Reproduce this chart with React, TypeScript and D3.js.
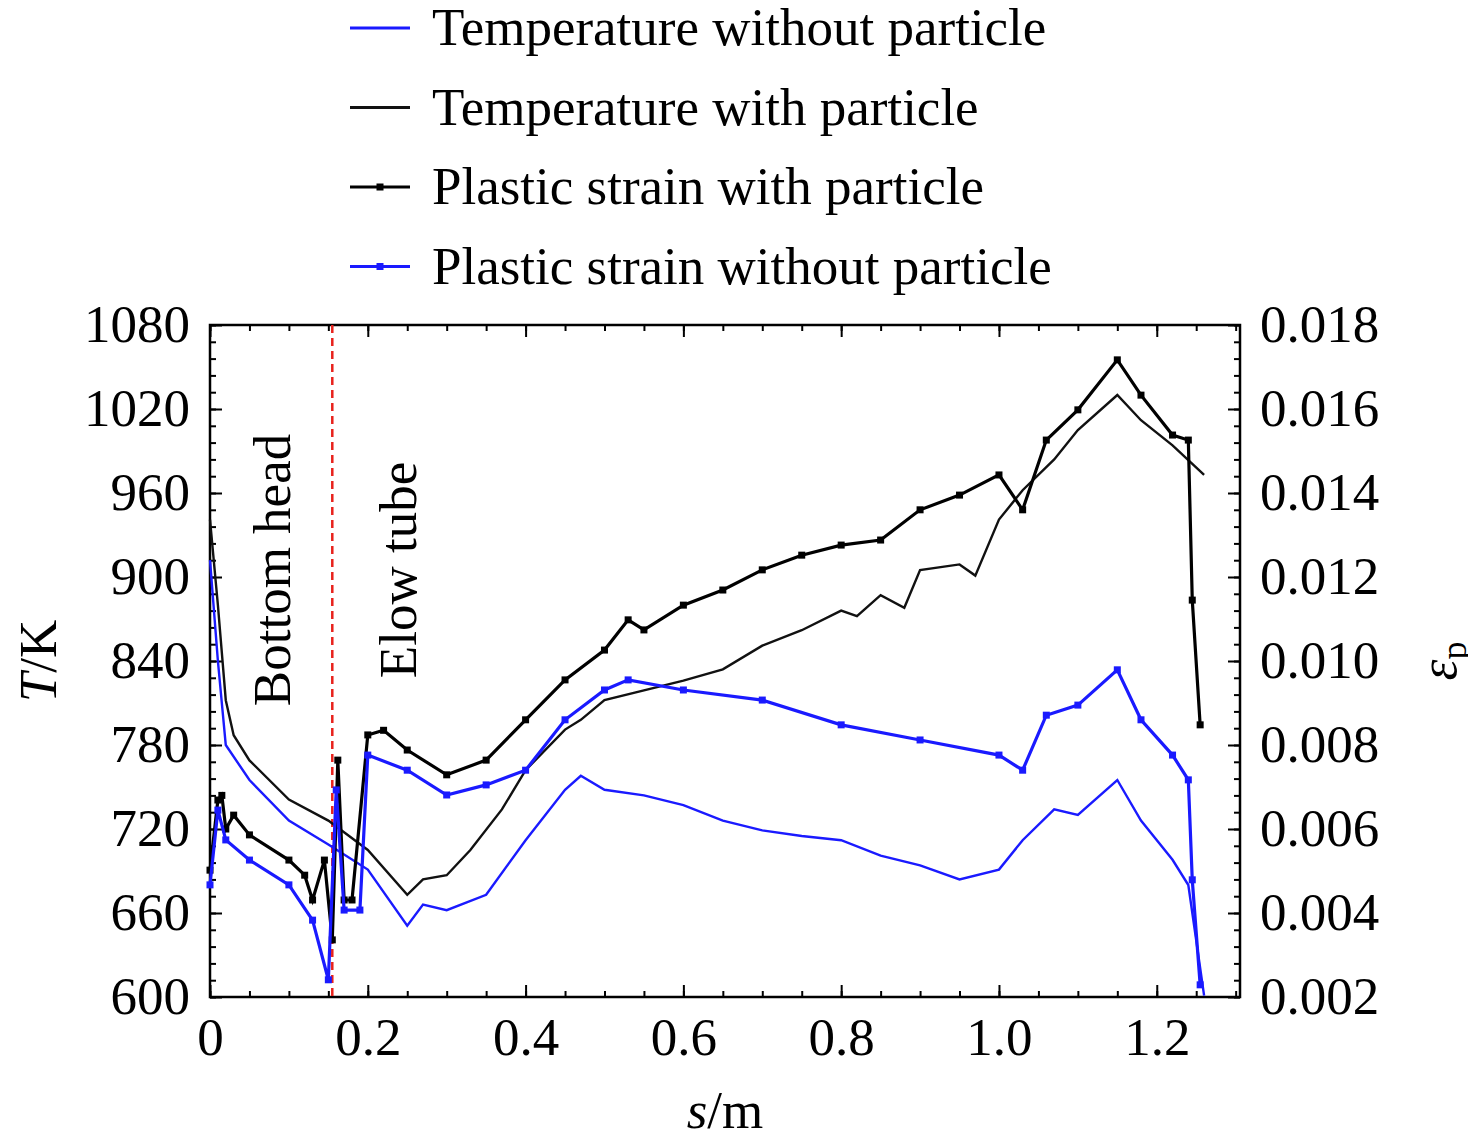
import { useEffect, useRef } from "react";
import * as d3 from "d3";

type P = [number, number];

// temperature series (s, T)
const tempWith: P[] = [[0,941],[0.01,880],[0.02,812],[0.03,787],[0.05,769],[0.1,741],[0.15,726],[0.2,705],[0.25,673],[0.27,684],[0.3,687],[0.33,705],[0.37,734],[0.4,762],[0.45,791],[0.47,798],[0.5,812],[0.55,819],[0.6,826],[0.65,834],[0.7,851],[0.75,862],[0.8,876],[0.82,872],[0.85,887],[0.88,878],[0.9,905],[0.95,909],[0.97,901],[1.0,941],[1.03,962],[1.07,984],[1.1,1005],[1.15,1030],[1.18,1012],[1.22,994],[1.26,973]];
const tempWithout: P[] = [[0,912],[0.01,840],[0.02,780],[0.05,755],[0.1,726],[0.15,709],[0.2,691],[0.25,651],[0.27,666],[0.3,662],[0.35,673],[0.4,712],[0.45,748],[0.47,758],[0.5,748],[0.55,744],[0.6,737],[0.65,726],[0.7,719],[0.75,715],[0.8,712],[0.85,701],[0.9,694],[0.95,684],[1.0,691],[1.03,712],[1.07,734],[1.1,730],[1.15,755],[1.18,726],[1.22,698],[1.24,680],[1.26,601]];
// plastic strain series (s, eps)
const strainWith: P[] = [[0,0.00502],[0.01,0.00669],[0.015,0.0068],[0.02,0.006],[0.03,0.00633],[0.05,0.00586],[0.1,0.00526],[0.12,0.0049],[0.13,0.00431],[0.145,0.00526],[0.155,0.00336],[0.162,0.00764],[0.17,0.00431],[0.18,0.00431],[0.2,0.00824],[0.22,0.00835],[0.25,0.00788],[0.3,0.00729],[0.35,0.00764],[0.4,0.0086],[0.45,0.00955],[0.5,0.01026],[0.53,0.01098],[0.55,0.01074],[0.6,0.01133],[0.65,0.01169],[0.7,0.01217],[0.75,0.01252],[0.8,0.01276],[0.85,0.01288],[0.9,0.0136],[0.95,0.01395],[1.0,0.01443],[1.03,0.0136],[1.06,0.01526],[1.1,0.01598],[1.15,0.01717],[1.18,0.01633],[1.22,0.01538],[1.24,0.01526],[1.245,0.01145],[1.255,0.00848]];
const strainWithout: P[] = [[0,0.00467],[0.01,0.00645],[0.02,0.00574],[0.05,0.00526],[0.1,0.00467],[0.13,0.00383],[0.15,0.00241],[0.16,0.00693],[0.17,0.00407],[0.19,0.00407],[0.2,0.00776],[0.25,0.0074],[0.3,0.00681],[0.35,0.00705],[0.4,0.0074],[0.45,0.0086],[0.5,0.00931],[0.53,0.00955],[0.6,0.00931],[0.7,0.00907],[0.8,0.00848],[0.9,0.00812],[1.0,0.00776],[1.03,0.0074],[1.06,0.00871],[1.1,0.00895],[1.15,0.00979],[1.18,0.0086],[1.22,0.00776],[1.24,0.00717],[1.245,0.00479],[1.255,0.00229]];

const leftTicks = [600, 660, 720, 780, 840, 900, 960, 1020, 1080];
const rightTicks = [0.002, 0.004, 0.006, 0.008, 0.01, 0.012, 0.014, 0.016, 0.018];
const xTicks = [0, 0.2, 0.4, 0.6, 0.8, 1.0, 1.2];
const legendItems = [
  { label: "Temperature without particle", color: "#1a1aff", marker: false },
  { label: "Temperature with particle", color: "#111", marker: false },
  { label: "Plastic strain with particle", color: "#000", marker: true },
  { label: "Plastic strain without particle", color: "#1a1aff", marker: true },
];

export default function App() {
  const ref = useRef<SVGSVGElement>(null);
  useEffect(() => {
    const svg = d3.select(ref.current);
    svg.selectAll("*").remove();
    const font = "'Liberation Serif', 'Times New Roman', serif";
    const FS = 53;
    const L = 210, R = 1240, T = 325, B = 997;
    const x = d3.scaleLinear().domain([0, 1.3055]).range([L, R]);
    const yl = d3.scaleLinear().domain([600, 1080]).range([B, T]);
    const yr = d3.scaleLinear().domain([0.002, 0.018]).range([B, T]);
    const g = svg.append("g").attr("font-family", font);

    const ax = (sel: any) => sel.selectAll(".domain").remove();
    const txt = (s: any) => s.selectAll("text").attr("font-size", FS).attr("font-family", font).attr("fill", "#000");
    // bottom / top
    g.append("g").attr("transform", `translate(0,${B})`)
      .call(d3.axisBottom(x).tickValues(xTicks).tickSize(-12).tickPadding(20).tickFormat((d: any) => d === 0 ? "0" : d3.format(".1f")(d)))
      .call(ax).call(txt);
    g.append("g").attr("transform", `translate(0,${B})`).call(d3.axisBottom(x).ticks(26).tickSize(-6).tickFormat(() => "")).call(ax);
    g.append("g").attr("transform", `translate(0,${T})`).call(d3.axisTop(x).tickValues(xTicks).tickSize(-12).tickFormat(() => "")).call(ax);
    g.append("g").attr("transform", `translate(0,${T})`).call(d3.axisTop(x).ticks(26).tickSize(-6).tickFormat(() => "")).call(ax);
    // left
    g.append("g").attr("transform", `translate(${L},0)`)
      .call(d3.axisLeft(yl).tickValues(leftTicks).tickSize(-12).tickPadding(20).tickFormat(d3.format("d")))
      .call(ax).call(txt);
    g.append("g").attr("transform", `translate(${L},0)`).call(d3.axisLeft(yl).tickValues(d3.range(600, 1081, 12)).tickSize(-6).tickFormat(() => "")).call(ax);
    // right
    g.append("g").attr("transform", `translate(${R},0)`)
      .call(d3.axisRight(yr).tickValues(rightTicks).tickSize(-12).tickPadding(20).tickFormat(d3.format(".3f")))
      .call(ax).call(txt);
    g.append("g").attr("transform", `translate(${R},0)`).call(d3.axisRight(yr).tickValues(d3.range(0.002, 0.0181, 0.0004)).tickSize(-6).tickFormat(() => "")).call(ax);
    g.selectAll(".tick line").attr("stroke", "#000").attr("stroke-width", 2);
    g.append("rect").attr("x", L).attr("y", T).attr("width", R - L).attr("height", B - T)
      .attr("fill", "none").attr("stroke", "#000").attr("stroke-width", 2.5);

    // red dashed divider
    g.append("line").attr("x1", x(0.155)).attr("x2", x(0.155)).attr("y1", T).attr("y2", B)
      .attr("stroke", "#e8221c").attr("stroke-width", 2.5).attr("stroke-dasharray", "8,5");

    const lt = d3.line<P>().x(d => x(d[0])).y(d => yl(d[1]));
    const ls = d3.line<P>().x(d => x(d[0])).y(d => yr(d[1]));
    g.append("path").attr("d", lt(tempWith)).attr("fill", "none").attr("stroke", "#111").attr("stroke-width", 2.4);
    g.append("path").attr("d", lt(tempWithout)).attr("fill", "none").attr("stroke", "#1a1aff").attr("stroke-width", 2.4);
    const strain = (data: P[], color: string) => {
      g.append("path").attr("d", ls(data)).attr("fill", "none").attr("stroke", color).attr("stroke-width", 3.2);
      g.append("g").selectAll("rect").data(data).join("rect")
        .attr("x", d => x(d[0]) - 3.5).attr("y", d => yr(d[1]) - 3.5).attr("width", 7).attr("height", 7).attr("fill", color);
    };
    strain(strainWith, "#000");
    strain(strainWithout, "#1a1aff");

    // region labels
    g.append("text").attr("transform", `translate(290,570) rotate(-90)`).attr("text-anchor", "middle")
      .attr("font-size", FS).text("Bottom head");
    g.append("text").attr("transform", `translate(416,570) rotate(-90)`).attr("text-anchor", "middle")
      .attr("font-size", FS).text("Elow tube");

    // axis titles
    const tl = g.append("text").attr("transform", `translate(56,661) rotate(-90)`).attr("text-anchor", "middle").attr("font-size", FS);
    tl.append("tspan").attr("font-style", "italic").text("T");
    tl.append("tspan").text("/K");
    const bl = g.append("text").attr("x", 725).attr("y", 1128).attr("text-anchor", "middle").attr("font-size", FS);
    bl.append("tspan").attr("font-style", "italic").text("s");
    bl.append("tspan").text("/m");
    const rl = g.append("text").attr("transform", `translate(1456,661) rotate(-90)`).attr("text-anchor", "middle").attr("font-size", FS);
    rl.append("tspan").attr("font-style", "italic").text("ε");
    rl.append("tspan").attr("font-size", 36).attr("dy", 10).text("p");

    // legend
    const lg = g.append("g");
    legendItems.forEach((it, i) => {
      const yy = 28 + i * 79.5;
      lg.append("line").attr("x1", 350).attr("x2", 410).attr("y1", yy).attr("y2", yy)
        .attr("stroke", it.color).attr("stroke-width", 3);
      if (it.marker) lg.append("rect").attr("x", 376.5).attr("y", yy - 3.5).attr("width", 7).attr("height", 7).attr("fill", it.color);
      lg.append("text").attr("x", 432).attr("y", yy + 17).attr("font-size", FS).text(it.label);
    });
  }, []);
  return <svg ref={ref} width={1476} height={1146} style={{ display: "block", margin: -8 }} />;
}
